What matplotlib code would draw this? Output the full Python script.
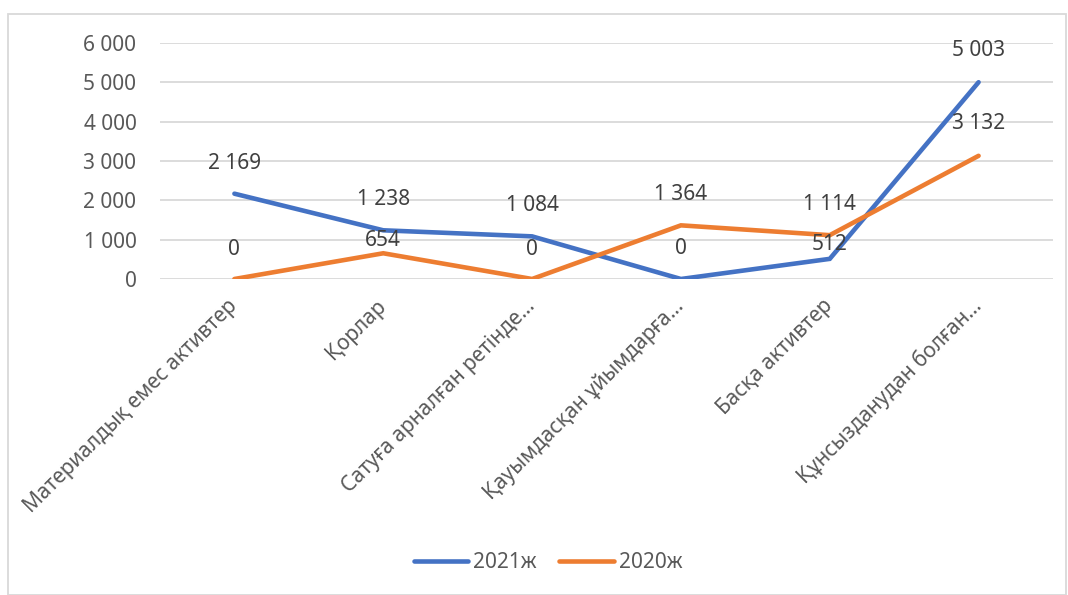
import matplotlib.pyplot as plt
import matplotlib.patches as mpatches
from matplotlib.lines import Line2D
import numpy as np

plt.rcParams['font.family'] = ['Noto Sans', 'DejaVu Sans']

categories = ['Материалдық емес активтер', 'Қорлар', 'Сатуға арналған ретінде…',
              'Қауымдасқан ұйымдарға…', 'Басқа активтер', 'Құнсызданудан болған…']
y2021 = [2169, 1238, 1084, 0, 512, 5003]
y2020 = [0, 654, 0, 1364, 1114, 3132]
yticks = [0, 1000, 2000, 3000, 4000, 5000, 6000]

# label offsets above the point, in points (a couple were nudged down in the original)
off2021 = [22, 22, 22, 22, 10, 23]
off2020 = [21, 9, 21, 22, 22, 23]

blue = '#4472C4'
orange = '#ED7D31'
txt = '#595959'
grid = '#D9D9D9'
fs = 15

def fmt(v):
    return f'{v:,}'.replace(',', ' ')

fig = plt.figure(figsize=(10.68, 5.95), dpi=100)
ax = fig.add_axes([160/1068, 1-279/595, (1053-160)/1068, (279-43)/595])

x = np.arange(len(categories))
ax.plot(x, y2021, color=blue, lw=3.3, solid_capstyle='round', solid_joinstyle='miter', zorder=3)
ax.plot(x, y2020, color=orange, lw=3.3, solid_capstyle='round', solid_joinstyle='miter', zorder=3)

for xi, v, o in zip(x, y2021, off2021):
    ax.annotate(fmt(v), (xi, v), xytext=(0, o), textcoords='offset points',
                ha='center', va='center', fontsize=fs, color='#404040', zorder=4)
for xi, v, o in zip(x, y2020, off2020):
    ax.annotate(fmt(v), (xi, v), xytext=(0, o), textcoords='offset points',
                ha='center', va='center', fontsize=fs, color='#404040', zorder=4)

ax.set_xlim(-0.5, len(categories) - 0.5)
ax.set_ylim(0, 6000)
ax.set_yticks(yticks)
ax.set_yticklabels([fmt(t) for t in yticks], fontsize=fs, color=txt)
ax.yaxis.grid(True, color=grid, lw=1.3)
ax.set_axisbelow(True)
ax.tick_params(axis='y', length=0, pad=17)
ax.tick_params(axis='x', length=0)
ax.set_xticks(x)
ax.set_xticklabels(categories, rotation=45, ha='right', va='center', rotation_mode='anchor',
                   fontsize=fs, color=txt)
for lab in ax.get_xticklabels():
    lab.set_y(-0.08)
for s in ax.spines.values():
    s.set_visible(False)

handles = [Line2D([], [], color=blue, lw=3.3, solid_capstyle='round'),
           Line2D([], [], color=orange, lw=3.3, solid_capstyle='round')]
fig.legend(handles, ['2021ж', '2020ж'], loc='center', bbox_to_anchor=(548/1068, 1-563/595),
           ncol=2, frameon=False, fontsize=fs, labelcolor=txt, handlelength=2.6,
           handletextpad=0.25, columnspacing=1.1)

fig.patches.append(mpatches.Rectangle((8/1068, 0), (1066-8)/1068, 1-14/595,
                                      transform=fig.transFigure, fill=False,
                                      edgecolor=grid, lw=1.3))

fig.savefig('out.png', dpi=100)
